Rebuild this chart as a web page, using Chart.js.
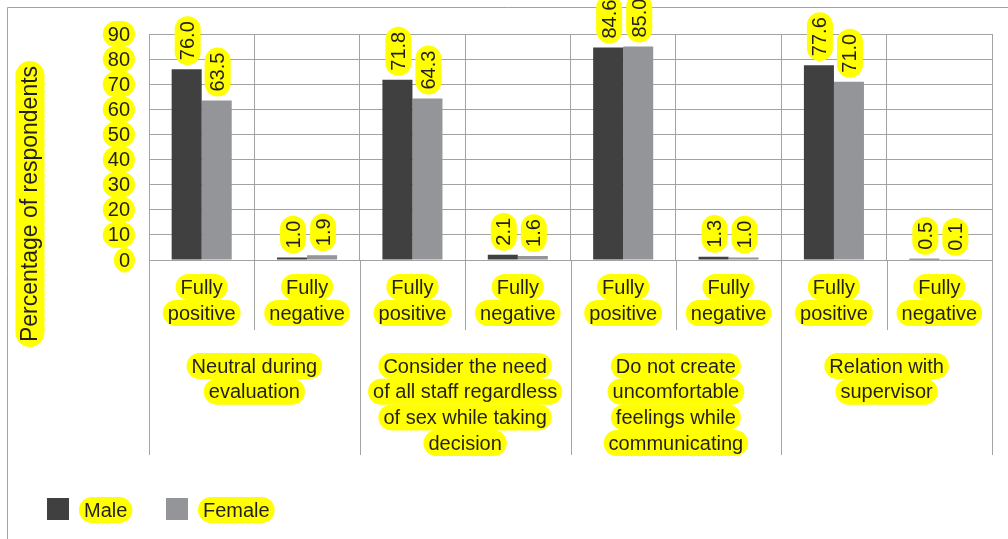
<!DOCTYPE html>
<html>
<head>
<meta charset="utf-8">
<script src="https://cdn.jsdelivr.net/npm/chart.js@4.4.0/dist/chart.umd.min.js"></script>
<style>
  body { margin: 0; background: #fff; }
  canvas { display: block; }
</style>
</head>
<body>
<canvas id="barChart" width="1008" height="539"></canvas>
<script>
// data
var subLabels = [['Fully', 'positive'], ['Fully', 'negative'], ['Fully', 'positive'], ['Fully', 'negative'],
                 ['Fully', 'positive'], ['Fully', 'negative'], ['Fully', 'positive'], ['Fully', 'negative']];
var groupLabels = [
    ['Neutral during', 'evaluation'],
    ['Consider the need', 'of all staff regardless', 'of sex while taking', 'decision'],
    ['Do not create', 'uncomfortable', 'feelings while', 'communicating'],
    ['Relation with', 'supervisor']
];
var male = [76.0, 1.0, 71.8, 2.1, 84.6, 1.3, 77.6, 0.5];
var female = [63.5, 1.9, 64.3, 1.6, 85.0, 1.0, 71.0, 0.1];
var yTicks = [0, 10, 20, 30, 40, 50, 60, 70, 80, 90];
var yTitle = 'Percentage of respondents';
var seriesNames = ['Male', 'Female'];
var seriesColors = ['#404040', '#939598'];

var FONT = '"Liberation Sans", Arial, sans-serif';
var YELLOW = '#ffff00';
var INK = '#231f20';
var LINE = '#a3a3a3';

// rounded yellow highlight behind a line of text
function pill(ctx, x, y, w, h) {
    var r = h / 2;
    ctx.beginPath();
    ctx.moveTo(x + r, y);
    ctx.lineTo(x + w - r, y);
    ctx.arc(x + w - r, y + r, r, -Math.PI / 2, Math.PI / 2);
    ctx.lineTo(x + r, y + h);
    ctx.arc(x + r, y + r, r, Math.PI / 2, Math.PI * 1.5);
    ctx.closePath();
    ctx.fillStyle = YELLOW;
    ctx.fill();
}

// align: 'center' | 'left' | 'right'
function hlText(ctx, text, x, y, size, align) {
    ctx.font = size + 'px ' + FONT;
    var w = ctx.measureText(text).width;
    var pad = 5, h = size + 6;
    var left = align === 'left' ? x : align === 'right' ? x - w : x - w / 2;
    pill(ctx, left - pad, y - h / 2, w + pad * 2, h);
    ctx.fillStyle = INK;
    ctx.textBaseline = 'middle';
    ctx.textAlign = 'left';
    ctx.fillText(text, left, y + 1);
}

// text rotated to read upwards, starting at (x, yBase)
function hlTextUp(ctx, text, x, yBase, size) {
    ctx.save();
    ctx.translate(x, yBase);
    ctx.rotate(-Math.PI / 2);
    hlText(ctx, text, 0, 0, size, 'left');
    ctx.restore();
}

var decor = {
    id: 'decor',
    afterDraw: function (chart) {
        var ctx = chart.ctx;
        var xs = chart.scales.x, ys = chart.scales.y;
        var area = chart.chartArea;
        var step = (area.right - area.left) / subLabels.length;
        ctx.save();

        // outer frame
        ctx.strokeStyle = LINE;
        ctx.lineWidth = 1;
        ctx.beginPath();
        ctx.moveTo(7.5, 539);
        ctx.lineTo(7.5, 7.5);
        ctx.lineTo(1008, 7.5);
        ctx.stroke();

        // separators below the axis
        for (var k = 0; k <= subLabels.length; k++) {
            var lx = Math.round(area.left + step * k) + 0.5;
            ctx.beginPath();
            ctx.moveTo(lx, area.bottom);
            ctx.lineTo(lx, k % 2 === 0 ? 455 : 330);
            ctx.stroke();
        }

        // y tick labels
        yTicks.forEach(function (t) {
            hlText(ctx, String(t), 130, ys.getPixelForValue(t), 20, 'right');
        });

        // y title
        ctx.save();
        ctx.translate(30, 204);
        ctx.rotate(-Math.PI / 2);
        hlText(ctx, yTitle, 0, 0, 23, 'center');
        ctx.restore();

        // category labels
        subLabels.forEach(function (lines, i) {
            var cx = xs.getPixelForValue(i);
            lines.forEach(function (s, j) {
                hlText(ctx, s, cx, 287 + j * 26, 20, 'center');
            });
        });
        groupLabels.forEach(function (lines, g) {
            var cx = area.left + step * (g * 2 + 1);
            lines.forEach(function (s, j) {
                hlText(ctx, s, cx, 366 + j * 25.7, 20, 'center');
            });
        });

        // value labels
        chart.data.datasets.forEach(function (ds, d) {
            chart.getDatasetMeta(d).data.forEach(function (bar, i) {
                hlTextUp(ctx, ds.data[i].toFixed(1), bar.x + 1, bar.y - 9, 20);
            });
        });

        // legend
        seriesNames.forEach(function (name, s) {
            var lx = 47 + s * 119;
            ctx.fillStyle = seriesColors[s];
            ctx.fillRect(lx, 498, 22, 22);
            hlText(ctx, name, lx + 37, 510, 20, 'left');
        });

        ctx.restore();
    }
};

var ctx = document.getElementById('barChart').getContext('2d');
var chart = new Chart(ctx, {
    type: 'bar',
    data: {
        labels: subLabels,
        datasets: [{
            label: seriesNames[0],
            data: male,
            backgroundColor: seriesColors[0],
            borderWidth: 0
        }, {
            label: seriesNames[1],
            data: female,
            backgroundColor: seriesColors[1],
            borderWidth: 0
        }]
    },
    options: {
        responsive: false,
        animation: false,
        layout: { padding: { left: 149, right: 16, top: 34, bottom: 279 } },
        datasets: { bar: { barPercentage: 1, categoryPercentage: 0.57 } },
        plugins: { legend: { display: false }, tooltip: { enabled: false } },
        scales: {
            x: {
                ticks: { display: false },
                grid: { color: LINE, drawTicks: false, offset: true },
                border: { color: LINE }
            },
            y: {
                min: 0,
                max: 90,
                ticks: { display: false, stepSize: 10 },
                grid: { color: LINE, drawTicks: false },
                border: { color: LINE }
            }
        }
    },
    plugins: [decor]
});
</script>
</body>
</html>
